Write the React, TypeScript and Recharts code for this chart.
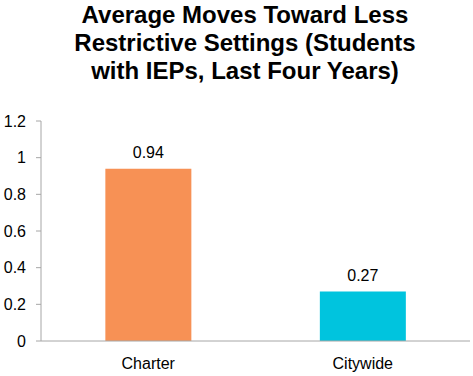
import { BarChart, Bar, XAxis, YAxis, LabelList } from 'recharts';

const categories = ['Charter', 'Citywide'];
const moves = [0.94, 0.27];
const barColors = ['#F79155', '#00C4DE'];
const yTicks = [0, 0.2, 0.4, 0.6, 0.8, 1, 1.2];
const boundaryTicks = [0, 1, 2];

const data = categories.map((name, i) => ({ name, value: moves[i], fill: barColors[i] }));

const font = '"Liberation Sans", Arial, sans-serif';
const axisGray = '#A6A6A6';

export default function App() {
  return (
    <div style={{ position: 'absolute', left: 0, top: 0, width: 473, height: 376, fontFamily: font, background: '#fff' }}>
      <div
        style={{
          position: 'absolute',
          left: 0,
          top: 1,
          width: 490,
          textAlign: 'center',
          fontSize: 24,
          lineHeight: '28px',
          fontWeight: 'bold',
          color: '#000',
        }}
      >
        Average Moves Toward Less
        <br />
        Restrictive Settings (Students
        <br />
        with IEPs, Last Four Years)
      </div>
      <BarChart width={473} height={376} data={data} margin={{ top: 121, right: 3, bottom: 5, left: 0 }} barCategoryGap="30%">
        <XAxis
          xAxisId="edges"
          type="number"
          domain={[0, 2]}
          ticks={boundaryTicks}
          allowDataOverflow
          height={0}
          axisLine={false}
          tick={false}
          tickSize={5}
          tickLine={{ stroke: axisGray }}
        />
        <XAxis
          xAxisId="cat"
          dataKey="name"
          height={30}
          axisLine={{ stroke: axisGray }}
          tickLine={false}
          tickSize={0}
          tickMargin={17}
          tick={{ fill: '#000', fontSize: 16, fontFamily: font }}
        />
        <YAxis
          width={41}
          domain={[0, 1.2]}
          ticks={yTicks}
          interval={0}
          axisLine={{ stroke: axisGray }}
          tickLine={{ stroke: axisGray }}
          tickSize={5}
          tickMargin={10}
          tick={{ fill: '#000', fontSize: 16, fontFamily: font }}
        />
        <Bar xAxisId="cat" dataKey="value" isAnimationActive={false}>
          <LabelList dataKey="value" position="top" offset={11} fill="#000" fontSize={16} fontFamily={font} />
        </Bar>
      </BarChart>
    </div>
  );
}
